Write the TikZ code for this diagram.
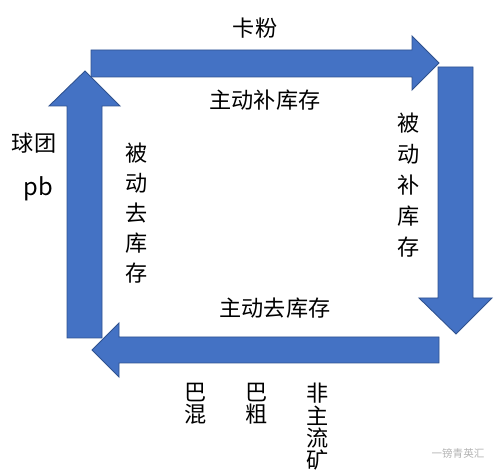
\documentclass[tikz,border=0pt]{standalone}
\usepackage{fontspec}
\setmainfont{Noto Sans CJK SC}
\usepackage{xcolor}
\usetikzlibrary{positioning}
\definecolor{arrowblue}{HTML}{4472C4}
\definecolor{arrowedge}{HTML}{2F528F}

\begin{document}
\begin{tikzpicture}[
    x=0.02cm, y=-0.02cm,
    blockarrow/.style={
        fill=arrowblue,
        draw=arrowedge,
        line width=0.5pt
    },
    hlabel/.style={font=\fontsize{12.6}{14}\selectfont, inner sep=0pt},
    vlabel/.style={align=center, inner sep=0pt, font=\fontsize{12.6}{17}\selectfont},
    blabel/.style={align=center, inner sep=0pt, font=\fontsize{12.6}{12.7}\selectfont}
]

% Frame
\useasboundingbox (0,0) rectangle (500,475);

% Top arrow (to the right)
\fill[blockarrow] (91,50) -- (412,50) -- (412,36) -- (439,63) -- (412,90)
    -- (412,77) -- (91,77) -- cycle;

% Right arrow (down)
\fill[blockarrow] (438,67) -- (473,67) -- (473,298) -- (492,298) -- (456,334)
    -- (419,298) -- (438,298) -- cycle;

% Bottom arrow (to the left)
\fill[blockarrow] (439,337) -- (439,363) -- (119,363) -- (119,377) -- (92,350)
    -- (119,323) -- (119,337) -- cycle;

% Left arrow (up)
\fill[blockarrow] (67,338) -- (67,106) -- (49,106) -- (85,71) -- (120,106)
    -- (102,106) -- (102,338) -- cycle;

% Labels along the top
\node[hlabel] (kafen) at (255,28) {卡粉};
\node[hlabel] (zdbkc) at (265,100) {主动补库存};

% Left side
\node[hlabel] (qiutuan) at (34,143) {球团};
\node[hlabel, font=\fontsize{13.5}{14}\selectfont] (pb) at (38,189) {pb};
\node[vlabel] (bdqkc) at (137,213) {被\\动\\去\\库\\存};

% Right side
\node[vlabel, font=\fontsize{12.6}{17.6}\selectfont] (bdbkc) at (409,185) {被\\动\\补\\库\\存};

% Bottom
\node[hlabel] (zdqkc) at (275,308) {主动去库存};
\node[blabel] (bahun) at (196,404) {巴\\混};
\node[blabel] (bacu) at (257,404) {巴\\粗};
\node[blabel] (fzlk) at (318,427) {非\\主\\流\\矿};

% Watermark
\node[font=\fontsize{6}{7}\selectfont, text=black!30, inner sep=0pt] (mark) at (458,453) {一镑青英汇};

\end{tikzpicture}
\end{document}
